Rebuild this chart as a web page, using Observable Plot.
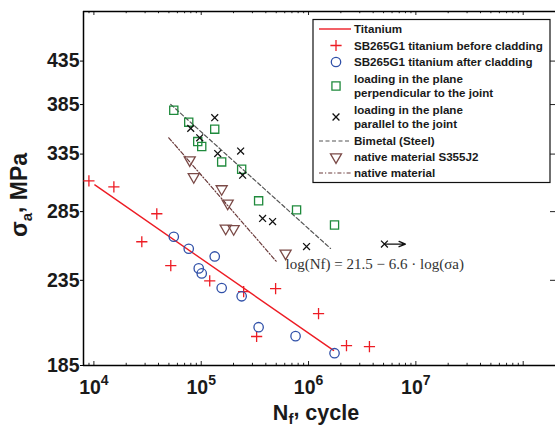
<!DOCTYPE html>
<html><head><meta charset="utf-8">
<script src="https://cdn.jsdelivr.net/npm/d3@7"></script>
<script src="https://cdn.jsdelivr.net/npm/@observablehq/plot@0.6"></script>
<style>
body{margin:0;background:#fff}
#chart svg{font-family:"Liberation Sans",Arial,sans-serif}
#chart g[aria-label="y-axis tick label"] text,
#chart g[aria-label="x-axis tick label"] text{font-weight:bold;font-size:19.5px;fill:#1a1a1a}
</style></head><body><div id="chart"></div>
<script>
// ---- data ----
const tiBeforeN = [8985, 15350, 27950, 38550, 52040, 120000, 248500, 328200, 493300, 1239000, 2257000, 3693000];
const tiBeforeS = [310.7, 305.5, 261.9, 283.3, 244.9, 234.7, 227.6, 200.7, 229.6, 214.0, 195.6, 195.1];
const tiAfterN = [55500, 76500, 133600, 94800, 101100, 155100, 238100, 342600, 756800, 1746000];
const tiAfterS = [265.6, 256.8, 251.3, 243.0, 239.6, 230.0, 224.7, 206.0, 200.9, 191.5];
const perpN = [55500, 76500, 133600, 92800, 101100, 155100, 238100, 342600, 773300, 1746000];
const perpS = [378.9, 366.4, 359.3, 347.0, 342.2, 327.7, 321.0, 293.8, 286.4, 274.5];
const paraN = [79860, 133600, 96830, 142400, 233000, 243200, 373300, 462400, 958000, 5093000];
const paraS = [360.1, 371.0, 350.7, 335.5, 337.9, 315.7, 279.6, 277.2, 258.4, 260.2];
const runoutN = [5093000, 8000000];
const runoutS = [260.2, 260.2];
const nativeN = [78160, 85170, 155100, 176400, 169000, 200600, 611000];
const nativeS = [328.1, 312.9, 302.5, 290.5, 270.8, 270.4, 252.5];
const tiLineN = [10200, 1708000];
const tiLineS = [307.2, 193.0];
const bimetalLineN = [52040, 1602000];
const bimetalLineS = [385.1, 257.0];
const nativeLineN = [49850, 503900];
const nativeLineS = [350.7, 247.6];
const yTicks = [185, 235, 285, 335, 385, 435];
const xTicks = [1e4, 1e5, 1e6, 1e7];
const equationPos = {N: 611000, S: 246};
const equationText = "log(Nf) = 21.5 − 6.6 · log(σa)";
const legendLabels = [
  ["Titanium"],
  ["SB265G1 titanium before cladding"],
  ["SB265G1 titanium after cladding"],
  ["loading in the plane", "perpendicular to the joint"],
  ["loading in the plane", "parallel to the joint"],
  ["Bimetal (Steel)"],
  ["native material S355J2"],
  ["native material"]
];

// ---- styling ----
const RED = "#ed1c24", BLUE = "#3050a8", GREEN = "#1f8a3c", BLACK = "#111", BROWN = "#7b4a47", DBROWN = "#6a3a3a", GRAY = "#555";
const W = 555, H = 426, mL = 83, mT = 11, mB = 61;
const xDomain = [8000, 2e8], yDomain = [185, 500];
const xPx = (W - mL) / Math.log10(xDomain[1] / xDomain[0]);
const yPx = (H - mT - mB) / Math.log10(yDomain[1] / yDomain[0]);
const zip = (a, b) => a.map((v, i) => ({N: v, S: b[i]}));

const xMinor = [];
for (let k = 3; k <= 8; k++) for (let m = 1; m <= 9; m++) {
  const v = m * 10 ** k;
  if (v > xDomain[0] && v < xDomain[1]) xMinor.push({v, major: m === 1});
}
const tickLen = d => d.major ? 4 : 2.2;

const sym = {
  plus: {symbol: "plus", r: 3.7, stroke: RED},
  circle: {symbol: "circle", r: 4.7, stroke: BLUE},
  square: {symbol: "square", r: 4.6, stroke: GREEN},
  times: {symbol: "times", r: 3.2, stroke: BLACK},
  tri: {symbol: "triangle", r: 4.1, stroke: BROWN, rotate: 180}
};

const plot = Plot.plot({
  width: W, height: H,
  marginLeft: mL, marginRight: 0, marginTop: mT, marginBottom: mB,
  x: {type: "log", domain: xDomain},
  y: {type: "log", domain: yDomain},
  style: {background: "white", overflow: "visible"},
  marks: [
    Plot.axisY({ticks: yTicks, tickSize: 3, tickPadding: 1, tickFormat: d => String(d), label: null}),
    Plot.axisX({ticks: xTicks, tickSize: 0, tickPadding: 15, tickFormat: d => String(Math.round(Math.log10(d))), label: null}),
    // inward minor ticks bottom & top
    Plot.ruleX(xMinor, {x: "v", y1: yDomain[0], y2: d => yDomain[0] * 10 ** (tickLen(d) / yPx), stroke: "#222", strokeWidth: 1}),
    Plot.ruleX(xMinor, {x: "v", y1: yDomain[1], y2: d => yDomain[1] / 10 ** (tickLen(d) / yPx), stroke: "#222", strokeWidth: 1}),
    // right ticks
    Plot.ruleY(yTicks, {y: d => d, x1: xDomain[1] / 10 ** (5 / xPx), x2: xDomain[1], stroke: "#222", strokeWidth: 1}),
    // frame lines
    Plot.ruleY([yDomain[0], yDomain[1]], {stroke: "#000", strokeWidth: 1.5}),
    Plot.ruleX([xDomain[0]], {stroke: "#000", strokeWidth: 1.5}),
    // fitted lines
    Plot.line(zip(tiLineN, tiLineS), {x: "N", y: "S", stroke: RED, strokeWidth: 1.4}),
    Plot.line(zip(bimetalLineN, bimetalLineS), {x: "N", y: "S", stroke: GRAY, strokeWidth: 1.2, strokeDasharray: "4,2.5"}),
    Plot.line(zip(nativeLineN, nativeLineS), {x: "N", y: "S", stroke: DBROWN, strokeWidth: 1.2, strokeDasharray: "4,2,1.2,2"}),
    // points
    Plot.dot(zip(tiBeforeN, tiBeforeS), {x: "N", y: "S", ...sym.plus, fill: "none", strokeWidth: 1.3}),
    Plot.dot(zip(tiAfterN, tiAfterS), {x: "N", y: "S", ...sym.circle, fill: "none", strokeWidth: 1.3}),
    Plot.dot(zip(perpN, perpS), {x: "N", y: "S", ...sym.square, fill: "none", strokeWidth: 1.3}),
    Plot.dot(zip(paraN, paraS), {x: "N", y: "S", ...sym.times, fill: "none", strokeWidth: 1.3}),
    Plot.dot(zip(nativeN, nativeS), {x: "N", y: "S", ...sym.tri, fill: "none", strokeWidth: 1.3, dy: -1.5}),
    Plot.arrow([{x1: runoutN[0], x2: runoutN[1], y1: runoutS[0], y2: runoutS[1]}], {x1: "x1", x2: "x2", y1: "y1", y2: "y2", stroke: BLACK, strokeWidth: 1.3, headLength: 8, headAngle: 45}),
    Plot.text([equationPos], {x: "N", y: "S", text: () => equationText, textAnchor: "start", fontFamily: "Liberation Serif, Times New Roman, serif", fontSize: 15, fill: "#333", ariaLabel: "equation"})
  ]
});

const svg = d3.select(plot);

// superscript exponents on x tick labels
svg.selectAll('g[aria-label="x-axis tick label"] text').each(function () {
  const e = this.textContent;
  const t = d3.select(this);
  t.text("10");
  t.append("tspan").attr("dy", -9).attr("font-size", 14).text(e);
});

// equation with italics / subscript
svg.selectAll('g[aria-label="equation"] text').each(function () {
  const t = d3.select(this);
  t.text("log(");
  t.append("tspan").attr("font-style", "italic").text("Nf");
  t.append("tspan").text(") = 21.5 − 6.6 · log(");
  t.append("tspan").attr("font-style", "italic").text("σ");
  t.append("tspan").attr("font-style", "italic").attr("font-size", 10.5).attr("dy", 3).text("a");
  t.append("tspan").attr("dy", -3).text(")");
});

// axis titles
const yl = svg.append("text").attr("transform", "translate(27,195) rotate(-90)")
  .attr("text-anchor", "middle").attr("font-weight", "bold").attr("font-size", 23).attr("fill", "#1a1a1a");
yl.append("tspan").text("σ");
yl.append("tspan").attr("font-size", 15).attr("dy", 5).text("a");
yl.append("tspan").attr("dy", -9).text(",");
yl.append("tspan").attr("dy", 4).text(" MPa");

const xl = svg.append("text").attr("x", 316).attr("y", 419.5)
  .attr("text-anchor", "middle").attr("font-weight", "bold").attr("font-size", 21.5).attr("fill", "#1a1a1a");
xl.append("tspan").text("N");
xl.append("tspan").attr("font-size", 15).attr("dy", 4).text("f");
xl.append("tspan").attr("dy", -8).text(",");
xl.append("tspan").attr("dy", 4).text(" cycle");

// legend
const lg = svg.append("g").attr("aria-label", "legend").attr("text-anchor", "start");
lg.append("rect").attr("x", 313).attr("y", 19.5).attr("width", 237).attr("height", 163)
  .attr("fill", "white").attr("stroke", "#111").attr("stroke-width", 1.2);
const rowY = [29, 45.5, 62, 86, 117, 141, 157, 173];
const icons = [
  {line: RED, dash: null, w: 1.4},
  {s: sym.plus, type: d3.symbolPlus},
  {s: sym.circle, type: d3.symbolCircle},
  {s: sym.square, type: d3.symbolSquare},
  {s: sym.times, type: d3.symbolTimes},
  {line: GRAY, dash: "4,2.5", w: 1.2},
  {s: sym.tri, type: d3.symbolTriangle},
  {line: DBROWN, dash: "4,2,1.2,2", w: 1.2}
];
legendLabels.forEach((lines, i) => {
  const cy = rowY[i], ic = icons[i];
  if (ic.line) {
    lg.append("line").attr("x1", 319).attr("x2", 351).attr("y1", cy).attr("y2", cy)
      .attr("stroke", ic.line).attr("stroke-width", ic.w).attr("stroke-dasharray", ic.dash);
  } else {
    lg.append("path").attr("d", d3.symbol(ic.type, Math.PI * ic.s.r * ic.s.r)())
      .attr("transform", `translate(336,${cy}) rotate(${ic.s.rotate || 0})`)
      .attr("fill", "none").attr("stroke", ic.s.stroke).attr("stroke-width", 1.3);
  }
  const t = lg.append("text").attr("x", 354).attr("text-anchor", "start").attr("font-weight", "bold").attr("font-size", 11.6).attr("fill", "#1a1a1a");
  if (lines.length === 1) t.attr("y", cy + 4).text(lines[0]);
  else {
    t.append("tspan").attr("x", 354).attr("y", cy - 7 + 4).text(lines[0]);
    t.append("tspan").attr("x", 354).attr("y", cy + 7 + 4).text(lines[1]);
  }
});

document.getElementById("chart").appendChild(plot);
</script>
</body></html>
